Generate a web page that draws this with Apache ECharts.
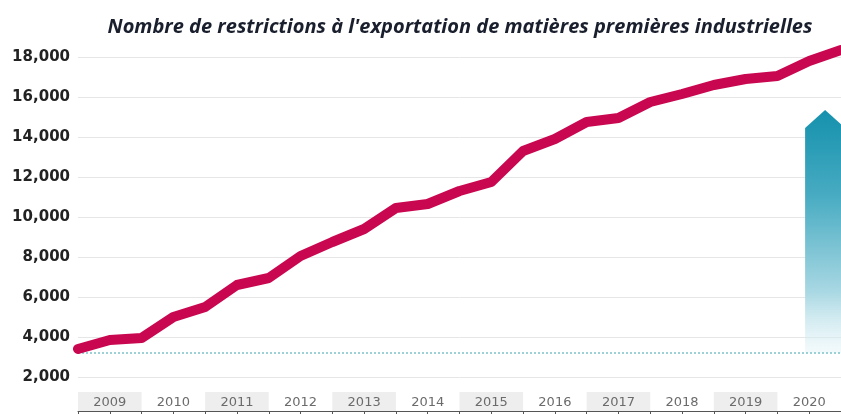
<!DOCTYPE html>
<html>
<head>
<meta charset="utf-8">
<script src="https://cdn.jsdelivr.net/npm/echarts@6/dist/echarts.min.js"></script>
<style>
  html, body { margin: 0; padding: 0; background: #fff; }
  #chart { width: 841px; height: 414px; }
</style>
</head>
<body>
<div id="chart"></div>
<script>
// years shown in the band under the chart
var years = ['2009', '2010', '2011', '2012', '2013', '2014', '2015', '2016', '2017', '2018', '2019', '2020'];
// half-year points (start and middle of each year)
var periods = [
    '2009-01', '2009-07', '2010-01', '2010-07', '2011-01', '2011-07', '2012-01', '2012-07',
    '2013-01', '2013-07', '2014-01', '2014-07', '2015-01', '2015-07', '2016-01', '2016-07',
    '2017-01', '2017-07', '2018-01', '2018-07', '2019-01', '2019-07', '2020-01', '2020-07', '2021-01'
];
var restrictions = [
    3400, 3850, 3950, 5000, 5500, 6600, 6950, 8050,
    8750, 9400, 10450, 10650, 11300, 11750, 13300, 13900,
    14750, 14950, 15750, 16150, 16600, 16900, 17050, 17800, 18350
];
// dotted reference level and the arrow (from / to values)
var baseLevel = 3200;
var arrowBase = 3200;
var arrowShoulder = 14450;
var arrowTop = 15350;

var chart = echarts.init(document.getElementById('chart'));

var option = {
    animation: false,
    title: {
        text: "Nombre de restrictions à l'exportation de matières premières industrielles",
        left: 455,
        textAlign: 'center',
        top: 12,
        textStyle: {
            fontFamily: 'Open Sans',
            fontStyle: 'italic',
            fontWeight: 'bold',
            fontSize: 20,
            color: '#1a1f2e'
        }
    },
    grid: [
        {left: 78, right: 0, top: 57, height: 320},
        {left: 78, right: 0, top: 392, height: 19}
    ],
    xAxis: [
        {
            gridIndex: 0,
            type: 'category',
            data: periods,
            boundaryGap: false,
            axisLine: {show: false},
            axisTick: {show: false},
            axisLabel: {show: false},
            splitLine: {show: false}
        },
        {
            gridIndex: 1,
            type: 'category',
            data: years,
            position: 'top',
            boundaryGap: true,
            axisLine: {show: false},
            axisTick: {show: false},
            axisLabel: {
                inside: true,
                margin: 4,
                fontFamily: 'DejaVu Sans',
                fontSize: 13,
                color: '#6b6b6b'
            },
            splitLine: {show: false},
            splitArea: {
                show: true,
                areaStyle: {color: ['#eeeeee', 'rgba(255,255,255,0)']}
            }
        },
        {
            gridIndex: 1,
            type: 'category',
            data: periods,
            position: 'bottom',
            boundaryGap: false,
            axisLine: {show: true, lineStyle: {color: '#555', width: 1}},
            axisTick: {show: true, interval: 0, length: 5, lineStyle: {color: '#555'}},
            axisLabel: {show: false},
            splitLine: {show: false}
        }
    ],
    yAxis: [
        {
            gridIndex: 0,
            type: 'value',
            min: 2000,
            max: 18000,
            interval: 2000,
            axisLine: {show: false},
            axisTick: {show: false},
            axisLabel: {
                margin: 8,
                fontFamily: 'DejaVu Sans',
                fontWeight: 'bold',
                fontSize: 15,
                color: '#222',
                formatter: function (v) {
                    return v.toLocaleString('en-US');
                }
            },
            splitLine: {lineStyle: {color: '#e6e6e6', width: 1}}
        },
        {
            gridIndex: 1,
            type: 'value',
            min: 0,
            max: 1,
            show: false
        }
    ],
    series: [
        {
            type: 'line',
            xAxisIndex: 0,
            yAxisIndex: 0,
            data: restrictions,
            clip: false,
            symbol: 'none',
            lineStyle: {color: '#c90650', width: 10, join: 'round', cap: 'round'},
            markLine: {
                silent: true,
                symbol: ['none', 'none'],
                label: {show: false},
                lineStyle: {color: '#7cc3c9', type: [2, 2], width: 1.5},
                data: [{yAxis: baseLevel}]
            },
            z: 5
        }
    ]
};

chart.setOption(option);

// arrow sits between the last two half-year points
var pA = chart.convertToPixel({xAxisIndex: 0, yAxisIndex: 0}, [periods.length - 2, arrowTop]);
var pB = chart.convertToPixel({xAxisIndex: 0, yAxisIndex: 0}, [periods.length - 1, arrowTop]);
var cx = (pA[0] + pB[0]) / 2;
var half = 20;
var yTop = chart.convertToPixel({yAxisIndex: 0}, arrowTop);
var yShoulder = chart.convertToPixel({yAxisIndex: 0}, arrowShoulder);
var yBase = chart.convertToPixel({yAxisIndex: 0}, arrowBase);

chart.setOption({
    graphic: [{
        type: 'polygon',
        z: 1,
        shape: {
            points: [
                [cx - half, yBase], [cx - half, yShoulder], [cx, yTop],
                [cx + half, yShoulder], [cx + half, yBase]
            ]
        },
        style: {
            fill: new echarts.graphic.LinearGradient(0, 0, 0, 1, [
                {offset: 0, color: '#1591ad'},
                {offset: 0.35, color: '#47abc2'},
                {offset: 0.75, color: '#a9d8e3'},
                {offset: 1, color: 'rgba(225,242,246,0.4)'}
            ])
        }
    }]
});
</script>
</body>
</html>
